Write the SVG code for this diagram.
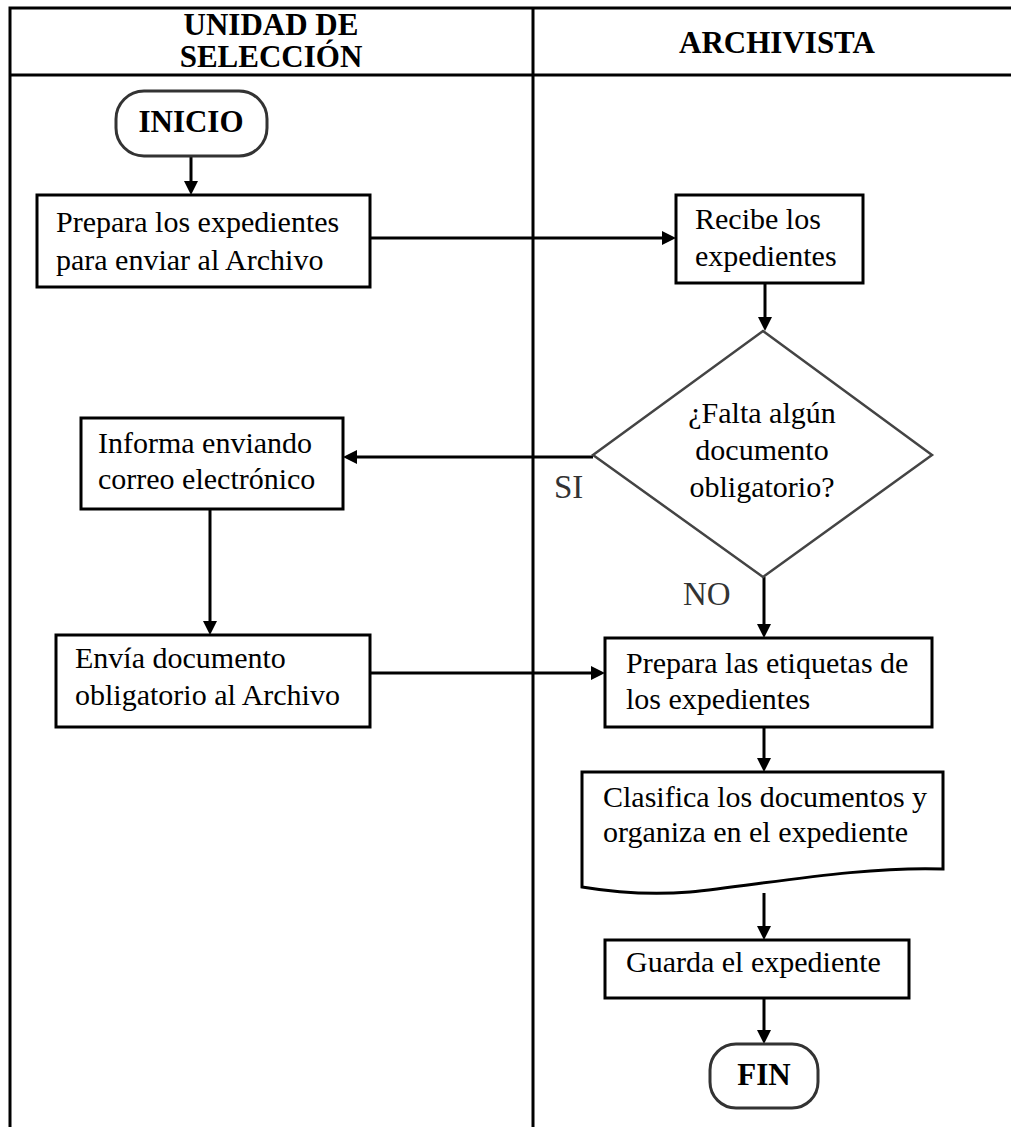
<svg xmlns="http://www.w3.org/2000/svg" width="1011" height="1127" viewBox="0 0 1011 1127">
<style>
.frame{stroke:#000;stroke-width:3;fill:none}
.box{fill:#fff;stroke:#000;stroke-width:3}
.term{fill:#fff;stroke:#333;stroke-width:3}
.dia{fill:#fff;stroke:#444;stroke-width:2.5}
.t{font-family:"Liberation Serif","Times New Roman",serif;font-size:30px;fill:#000}
.h{font-family:"Liberation Serif","Times New Roman",serif;font-size:31px;font-weight:bold;fill:#000;text-anchor:middle}
.lbl{font-family:"Liberation Serif","Times New Roman",serif;font-size:33px;fill:#333}
.ln{stroke:#000;stroke-width:3;fill:none}
.hd{fill:#000;stroke:none}
</style>
<rect width="1011" height="1127" fill="#fff"/>
<g id="frame">
<path class="frame" d="M10,1127 V8 H1011 M10,75 H1011 M533,8 V1127"/>
<text class="h" x="271" y="35">UNIDAD DE</text>
<text class="h" x="271" y="67">SELECCIÓN</text>
<text class="h" x="777" y="53">ARCHIVISTA</text>
</g>
<g id="connectors">
<line class="ln" x1="191" y1="156" x2="191" y2="182"/>
<path class="hd" d="M184,181 L198,181 L191,195 Z"/>
<line class="ln" x1="370" y1="238" x2="663" y2="238"/>
<path class="hd" d="M662,231 L676,238 L662,245 Z"/>
<line class="ln" x1="765" y1="283" x2="765" y2="318"/>
<path class="hd" d="M758,317 L772,317 L765,331 Z"/>
<line class="ln" x1="593" y1="457" x2="356" y2="457"/>
<path class="hd" d="M357,450 L343,457 L357,464 Z"/>
<line class="ln" x1="210" y1="509" x2="210" y2="622"/>
<path class="hd" d="M203,621 L217,621 L210,635 Z"/>
<line class="ln" x1="370" y1="673" x2="592" y2="673"/>
<path class="hd" d="M591,666 L605,673 L591,680 Z"/>
<line class="ln" x1="764" y1="577" x2="764" y2="625"/>
<path class="hd" d="M757,624 L771,624 L764,638 Z"/>
<line class="ln" x1="764" y1="727" x2="764" y2="759"/>
<path class="hd" d="M757,758 L771,758 L764,772 Z"/>
<line class="ln" x1="764" y1="893" x2="764" y2="927"/>
<path class="hd" d="M757,926 L771,926 L764,940 Z"/>
<line class="ln" x1="764" y1="998" x2="764" y2="1031"/>
<path class="hd" d="M757,1030 L771,1030 L764,1044 Z"/>
<text class="lbl" x="554" y="498">SI</text>
<text class="lbl" x="683" y="605">NO</text>
</g>
<g id="inicio">
<rect class="term" x="116" y="91" width="151" height="65" rx="28" ry="28"/>
<text class="h" x="191" y="132">INICIO</text>
</g>
<g id="prepara">
<rect class="box" x="37" y="195" width="333" height="92"/>
<text class="t" x="56" y="232">Prepara los expedientes</text>
<text class="t" x="56" y="270">para enviar al Archivo</text>
</g>
<g id="recibe">
<rect class="box" x="676" y="195" width="187" height="88"/>
<text class="t" x="695" y="229">Recibe los</text>
<text class="t" x="695" y="266">expedientes</text>
</g>
<g id="decision">
<polygon class="dia" points="763,331 932,455 763,577 593,455"/>
<text class="t" x="762" y="423" text-anchor="middle">¿Falta algún</text>
<text class="t" x="762" y="460" text-anchor="middle">documento</text>
<text class="t" x="762" y="497" text-anchor="middle">obligatorio?</text>
</g>
<g id="informa">
<rect class="box" x="81" y="418" width="262" height="91"/>
<text class="t" x="98" y="453">Informa enviando</text>
<text class="t" x="98" y="489">correo electrónico</text>
</g>
<g id="envia">
<rect class="box" x="56" y="635" width="314" height="92"/>
<text class="t" x="75" y="668">Envía documento</text>
<text class="t" x="75" y="705">obligatorio al Archivo</text>
</g>
<g id="etiquetas">
<rect class="box" x="605" y="638" width="327" height="89"/>
<text class="t" x="626" y="673">Prepara las etiquetas de</text>
<text class="t" x="626" y="709">los expedientes</text>
</g>
<g id="clasifica">
<path class="box" d="M582,772 H943 V869 C860,866 760,885 690,892 C640,896 600,890 582,887 Z"/>
<text class="t" x="603" y="807">Clasifica los documentos y</text>
<text class="t" x="603" y="842">organiza en el expediente</text>
</g>
<g id="guarda">
<rect class="box" x="605" y="940" width="304" height="58"/>
<text class="t" x="626" y="972">Guarda el expediente</text>
</g>
<g id="fin">
<rect class="term" x="710" y="1044" width="108" height="64" rx="26" ry="26"/>
<text class="h" x="764" y="1085">FIN</text>
</g>
</svg>
